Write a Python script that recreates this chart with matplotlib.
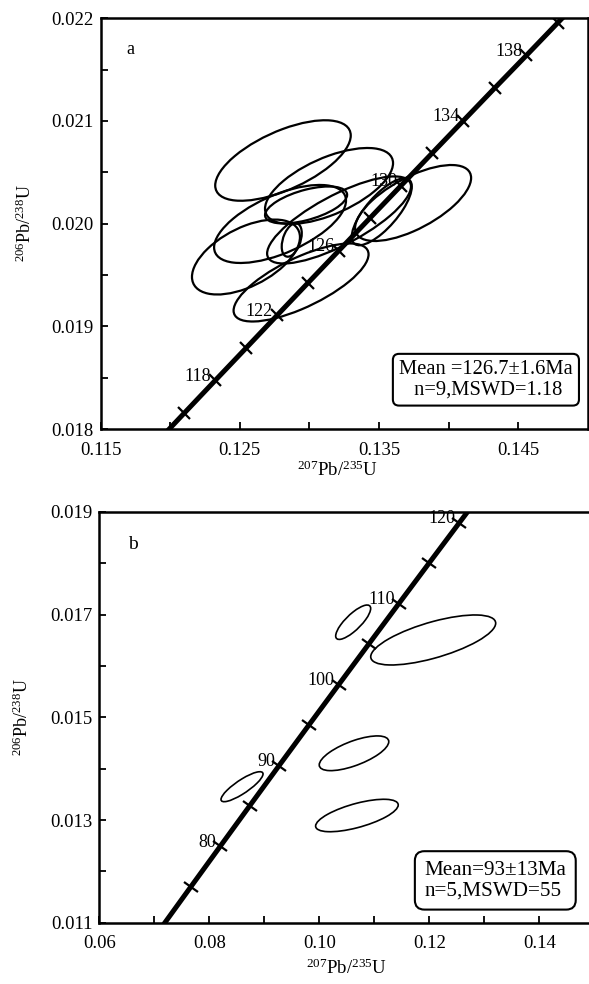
import numpy as np
import matplotlib
matplotlib.use('Agg')
import matplotlib.pyplot as plt
from matplotlib.patches import Ellipse
from matplotlib.markers import MarkerStyle
from matplotlib.transforms import Affine2D
from matplotlib.ticker import FixedLocator, FormatStrFormatter

plt.rcParams['font.family'] = ['Liberation Serif', 'DejaVu Serif']
plt.rcParams['mathtext.fontset'] = 'custom'
plt.rcParams['mathtext.rm'] = 'Liberation Serif'
plt.rcParams['mathtext.it'] = 'Liberation Serif:italic'

# concordia points (age Ma, 207Pb/235U, 206Pb/238U)
ages_a = [114, 116, 118, 120, 122, 124, 126, 128, 130, 132, 134, 136, 138, 140, 142]
conc_a_x = [0.11882, 0.12102, 0.12323, 0.12545, 0.12767, 0.12989, 0.13212, 0.13435,
            0.13659, 0.13883, 0.14107, 0.14332, 0.14559, 0.14784, 0.15010]
conc_a_y = [0.017841, 0.018157, 0.018473, 0.018789, 0.019106, 0.019422, 0.019738, 0.020054,
            0.020371, 0.020688, 0.021004, 0.021321, 0.021638, 0.021955, 0.022273]
labels_a = [118, 122, 126, 130, 134, 138]

ages_b = [70, 75, 80, 85, 90, 95, 100, 105, 110, 115, 120, 125]
conc_b_x = [0.07137, 0.07666, 0.08198, 0.08732, 0.09268, 0.09808, 0.10350, 0.10895,
            0.11442, 0.11992, 0.12545, 0.13100]
conc_b_y = [0.010918, 0.011702, 0.012487, 0.013273, 0.014059, 0.014846, 0.015633, 0.016422,
            0.017210, 0.017999, 0.018789, 0.019580]
labels_b = [80, 90, 100, 110, 120]

# error ellipses: centre, half-width, correlation
ell_a_x = [0.12810, 0.13141, 0.12789, 0.12544, 0.12873, 0.12976, 0.13213, 0.13745, 0.12940, 0.13520]
ell_a_sx = [0.00487, 0.00460, 0.00474, 0.00388, 0.00072, 0.00295, 0.00517, 0.00417, 0.00485, 0.00216]
ell_a_y = [0.020615, 0.020367, 0.019997, 0.019675, 0.019841, 0.020182, 0.020036, 0.020201, 0.019427, 0.020116]
ell_a_sy = [0.000392, 0.000370, 0.000380, 0.000365, 0.000163, 0.000180, 0.000424, 0.000370, 0.000380, 0.000326]
ell_a_rho = [0.62, 0.60, 0.60, 0.53, 0.40, 0.55, 0.77, 0.66, 0.72, 0.75]

ell_b_x = [0.10616, 0.12071, 0.10631, 0.10684, 0.08595]
ell_b_sx = [0.00318, 0.01136, 0.00632, 0.00751, 0.00382]
ell_b_y = [0.016853, 0.016507, 0.014300, 0.013088, 0.013649]
ell_b_sy = [0.000335, 0.000487, 0.000338, 0.000316, 0.000292]
ell_b_rho = [0.80, 0.67, 0.67, 0.65, 0.85]

text_a = 'Mean =126.7\u00b11.6Ma\n n=9,MSWD=1.18'
text_b = 'Mean=93\u00b113Ma\nn=5,MSWD=55'

FS = 13


def add_ellipse(ax, cx, sx, cy, sy, rho, lw):
    cov = np.array([[sx * sx, rho * sx * sy], [rho * sx * sy, sy * sy]])
    vals, vecs = np.linalg.eigh(cov)
    ang = np.degrees(np.arctan2(vecs[1, 1], vecs[0, 1]))
    e = Ellipse((cx, cy), 2 * np.sqrt(vals[1]), 2 * np.sqrt(vals[0]), angle=ang,
                fill=False, ec='black', lw=lw, zorder=3)
    ax.add_patch(e)


def concordia(ax, ages, xs, ys, labels):
    ax.plot(xs, ys, color='black', lw=3.6, solid_capstyle='butt', zorder=2)
    # perpendicular tick marks along the curve
    p0 = ax.transData.transform((xs[1], ys[1]))
    p1 = ax.transData.transform((xs[-2], ys[-2]))
    ang = np.degrees(np.arctan2(p1[1] - p0[1], p1[0] - p0[0]))
    mk = MarkerStyle('|', transform=Affine2D().rotate_deg(ang))
    ax.plot(xs[1:-1], ys[1:-1], linestyle='none', marker=mk, ms=12, mew=1.6,
            color='black', zorder=2)
    for a in labels:
        i = ages.index(a)
        ax.annotate(str(a), (xs[i], ys[i]), xytext=(-3, 3), textcoords='offset points',
                    ha='right', va='center', fontsize=FS, zorder=1)


def style_axes(ax, xmaj, xmin, ymaj, ymin, xfmt, yfmt):
    ax.xaxis.set_major_locator(FixedLocator(xmaj))
    ax.xaxis.set_minor_locator(FixedLocator(xmin))
    ax.yaxis.set_major_locator(FixedLocator(ymaj))
    ax.yaxis.set_minor_locator(FixedLocator(ymin))
    ax.xaxis.set_major_formatter(FormatStrFormatter(xfmt))
    ax.yaxis.set_major_formatter(FormatStrFormatter(yfmt))
    ax.tick_params(which='both', direction='in', length=5, width=1.3,
                   top=False, right=False, labelsize=FS + 0.5)
    ax.tick_params(axis='x', which='major', pad=9)
    ax.tick_params(axis='y', which='major', pad=5)
    for s in ax.spines.values():
        s.set_linewidth(1.8)
    ax.set_xlabel(r'$^{207}$Pb/$^{235}$U', fontsize=FS + 0.5)
    ax.set_ylabel(r'$^{206}$Pb/$^{238}$U', fontsize=FS)
    ax.xaxis.label.set_verticalalignment('center')
    ax.yaxis.label.set_verticalalignment('center')


fig = plt.figure(figsize=(5.89, 9.84), dpi=100)

# panel a
ax1 = fig.add_axes([0.17097, 0.56402, 0.82683, 0.41738])
ax1.set_xlim(0.115, 0.150)
ax1.set_ylim(0.018, 0.022)
style_axes(ax1, [0.115, 0.125, 0.135, 0.145], [0.120, 0.130, 0.140],
           [0.018, 0.019, 0.020, 0.021, 0.022], [0.0185, 0.0195, 0.0205, 0.0215],
           '%.3f', '%.3f')
ax1.xaxis.set_label_coords(0.487, -0.10)
ax1.yaxis.set_label_coords(-0.155, 0.5)
concordia(ax1, ages_a, conc_a_x, conc_a_y, labels_a)
for i in range(len(ell_a_x)):
    add_ellipse(ax1, ell_a_x[i], ell_a_sx[i], ell_a_y[i], ell_a_sy[i], ell_a_rho[i], 1.6)
ax1.text(0.06, 0.923, 'a', transform=ax1.transAxes, fontsize=FS, ha='center', va='center')
ax1.text(0.791, 0.12, text_a, transform=ax1.transAxes, fontsize=14.8, ha='center',
         va='center', multialignment='center', linespacing=1.1,
         bbox=dict(boxstyle='round,pad=0.3', fc='white', ec='black', lw=1.5), zorder=5)

# panel b
ax2 = fig.add_axes([0.16859, 0.0623, 0.84041, 0.41738])
ax2.set_xlim(0.06, 0.15)
ax2.set_ylim(0.011, 0.019)
style_axes(ax2, [0.06, 0.08, 0.10, 0.12, 0.14], [0.07, 0.09, 0.11, 0.13],
           [0.011, 0.013, 0.015, 0.017, 0.019], [0.012, 0.014, 0.016, 0.018],
           '%.2f', '%.3f')
ax2.xaxis.set_label_coords(0.50, -0.11)
ax2.yaxis.set_label_coords(-0.156, 0.5)
concordia(ax2, ages_b, conc_b_x, conc_b_y, labels_b)
for i in range(len(ell_b_x)):
    add_ellipse(ax2, ell_b_x[i], ell_b_sx[i], ell_b_y[i], ell_b_sy[i], ell_b_rho[i], 1.2)
ax2.text(0.068, 0.92, 'b', transform=ax2.transAxes, fontsize=FS + 1, ha='center', va='center')
ax2.text(0.80, 0.103, text_b, transform=ax2.transAxes, fontsize=15.2, ha='center',
         va='center', multialignment='left', linespacing=1.1,
         bbox=dict(boxstyle='round,pad=0.45', fc='white', ec='black', lw=1.5), zorder=5)

fig.savefig('out.png', dpi=100)
